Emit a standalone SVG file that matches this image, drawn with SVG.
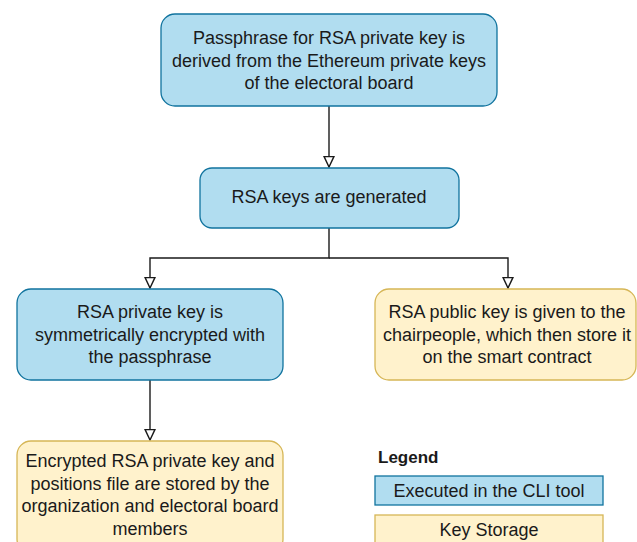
<svg xmlns="http://www.w3.org/2000/svg" width="637" height="542" viewBox="0 0 637 542">
<style>
.blue{fill:#b1ddf0;stroke:#10739e;stroke-width:1.3}
.yellow{fill:#fff2cc;stroke:#d6b656;stroke-width:1.3}
text{font-family:"Liberation Sans",Arial,sans-serif;font-size:18px;fill:#1a1a1a;text-anchor:middle}
.edge{fill:none;stroke:#1a1a1a;stroke-width:1.4}
</style>
<defs>
<marker id="tri" markerWidth="12" markerHeight="12" refX="10" refY="5" orient="auto" markerUnits="userSpaceOnUse" viewBox="0 0 11 10">
<path d="M0.5,0.5 L10,5 L0.5,9.5 Z" fill="#fff" stroke="#1a1a1a" stroke-width="1.3"/>
</marker>
</defs>
<rect width="637" height="542" fill="#fff"/>
<g id="connectors">
<path class="edge" d="M329,106 V167" marker-end="url(#tri)"/>
<path class="edge" d="M329,228 V258 H150 V288" marker-end="url(#tri)"/>
<path class="edge" d="M329,258 H508 V288" marker-end="url(#tri)"/>
<path class="edge" d="M150,380 V440" marker-end="url(#tri)"/>
</g>
<g id="n1">
<rect class="blue" x="161" y="14" width="336" height="92" rx="14"/>
<text x="329" y="44">Passphrase for RSA private key is</text>
<text x="329" y="66.5">derived from the Ethereum private keys</text>
<text x="329" y="89">of the electoral board</text>
</g>
<g id="n2">
<rect class="blue" x="200" y="168" width="259" height="60" rx="12"/>
<text x="329" y="203">RSA keys are generated</text>
</g>
<g id="n3">
<rect class="blue" x="17" y="289" width="266" height="91" rx="14"/>
<text x="150" y="318">RSA private key is</text>
<text x="150" y="340.5">symmetrically encrypted with</text>
<text x="150" y="363">the passphrase</text>
</g>
<g id="n4">
<rect class="yellow" x="375" y="289" width="261" height="91" rx="14"/>
<text x="507" y="318">RSA public key is given to the</text>
<text x="507" y="340.5">chairpeople, which then store it</text>
<text x="507" y="363">on the smart contract</text>
</g>
<g id="n5">
<rect class="yellow" x="17" y="441" width="266" height="112" rx="14"/>
<text x="150" y="467">Encrypted RSA private key and</text>
<text x="150" y="489.5">positions file are stored by the</text>
<text x="150" y="512">organization and electoral board</text>
<text x="150" y="534.5">members</text>
</g>
<g id="legend">
<text x="378" y="463" style="text-anchor:start;font-weight:bold;font-size:17px">Legend</text>
<rect class="blue" x="375" y="476" width="228" height="29"/>
<text x="489" y="497">Executed in the CLI tool</text>
<rect class="yellow" x="375" y="515" width="228" height="35"/>
<text x="489" y="536">Key Storage</text>
</g>
</svg>
